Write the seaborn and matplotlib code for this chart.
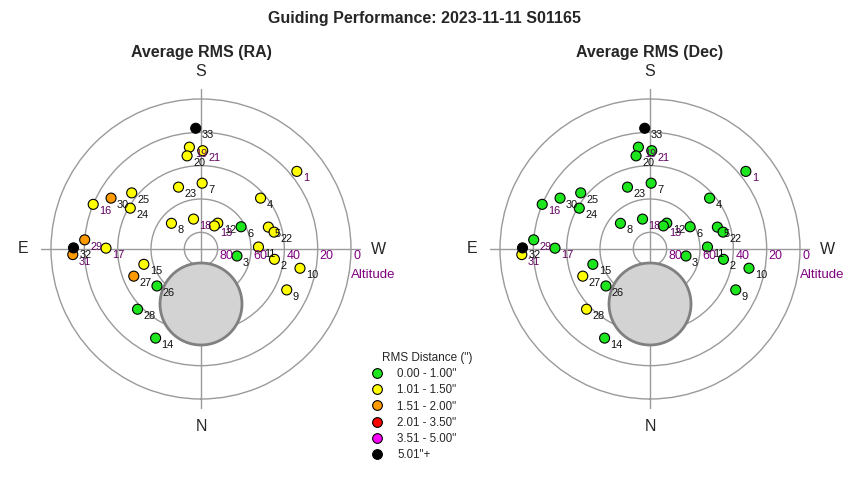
import numpy as np
import pandas as pd
import seaborn as sns
import matplotlib.pyplot as plt
from matplotlib.lines import Line2D
from matplotlib.patches import Circle

sns.set_style('white')
plt.rcParams['font.family'] = ['Liberation Sans', 'DejaVu Sans']

#%% data
point_id = list(range(1, 34))
azimuth = [231, 278, 281, 229.5, 252, 241, 181, 131, 295.5, 281, 268, 213, 210,
           27, 75, 112.5, 90.5, 166, 173.5, 171.5, 181, 257, 160, 120, 129,
           50, 68, 46.5, 94.5, 119.5, 87.5, 90.5, 177.5]
altitude = [16, 45.5, 68, 43, 47.5, 62.5, 50.5, 66.5, 33, 29.5, 55.5, 71.5, 74,
            30, 54.5, 20, 33, 71.5, 28.5, 33.5, 31, 45, 50.5, 41, 36.5,
            55.5, 46.5, 37.5, 20, 28, 13, 13.5, 17.5]
# RMS bin per point (0 = best ... 5 = worst)
ra_bin = [1, 1, 0, 1, 1, 0, 1, 1, 1, 1, 1, 1, 1, 0, 1, 1, 1, 1, 1, 1, 1, 1, 1,
          1, 1, 0, 2, 0, 2, 2, 2, 5, 5]
dec_bin = [0, 0, 0, 0, 0, 0, 0, 0, 0, 0, 0, 0, 0, 0, 0, 0, 0, 0, 0, 0, 0, 0, 0,
           0, 0, 0, 1, 1, 0, 0, 1, 5, 5]
purple_labels = [1, 13, 16, 17, 18, 19, 21, 29, 31]

bin_labels = ['0.00 - 1.00"', '1.01 - 1.50"', '1.51 - 2.00"',
              '2.01 - 3.50"', '3.51 - 5.00"', '5.01"+']
bin_colors = ['#1ee61e', '#ffff00', '#ff9a00', '#ff0000', '#ff00ff', '#000000']
palette = dict(zip(bin_labels, bin_colors))

ring_alt = [80, 60, 40, 20, 0]
cardinal_az = [0, 90, 180, 270]
cardinal_name = ['N', 'E', 'S', 'W']

#%% panel
def draw_panel(ax, bins):
    df = pd.DataFrame({
        'id': point_id,
        'theta': np.radians(azimuth),
        'r': 90 - np.array(altitude, dtype=float),
        'bin': [bin_labels[b] for b in bins]})
    ax.set_theta_zero_location('S')
    ax.set_theta_direction(-1)
    sns.scatterplot(data=df, x='theta', y='r', hue='bin', hue_order=bin_labels,
                    palette=palette, s=52, edgecolor='black', linewidth=0.8,
                    legend=False, ax=ax, zorder=3)
    ax.set_rlim(0, 96)
    ax.set_xlabel('')
    ax.set_ylabel('')
    ax.set_rticks([90 - a for a in ring_alt])
    ax.set_yticklabels([])
    ax.set_xticks(np.radians(cardinal_az))
    ax.set_xticklabels([])
    ax.grid(True, color='#9a9a9a', lw=1)
    ax.spines['polar'].set_visible(False)
    # grey blob below the pole
    blob = Circle((0, -33), 24.6,
                  transform=ax.transProjectionAffine + ax.transWedge + ax.transAxes,
                  facecolor='#d3d3d3', edgecolor='#808080', lw=2, zorder=1)
    ax.add_artist(blob)
    for a in ring_alt:
        ax.annotate(str(a), (np.radians(270), 90 - a), xytext=(1.5, -0.5),
                    textcoords='offset points', ha='left', va='top',
                    color='#800080', fontsize=9)
    ax.annotate('Altitude', (np.radians(270), 90), xytext=(0, -18.4),
                textcoords='offset points', ha='left', va='center',
                color='#800080', fontsize=9.5)
    for az, name in zip(cardinal_az, cardinal_name):
        ax.text(np.radians(az), 106.5, name, ha='center', va='center', fontsize=11.5)
    for row in df.itertuples():
        col = '#600060' if row.id in purple_labels else '#111111'
        ax.annotate(str(row.id), (row.theta, row.r), xytext=(4.3, -5),
                    textcoords='offset points', ha='left', va='center',
                    fontsize=7.9, color=col, zorder=4)

#%% figure
fig = plt.figure(figsize=(8.5, 4.8), dpi=100)
ax_ra = fig.add_axes([41 / 850, 71 / 480, 320 / 850, 320 / 480], projection='polar')
ax_dec = fig.add_axes([490 / 850, 71 / 480, 320 / 850, 320 / 480], projection='polar')
draw_panel(ax_ra, ra_bin)
draw_panel(ax_dec, dec_bin)

fig.text(0.5, 1 - 19 / 480, 'Guiding Performance: 2023-11-11 S01165',
         ha='center', va='center', fontsize=11.5, fontweight='bold')
fig.text(201 / 850, 1 - 53 / 480, 'Average RMS (RA)', ha='center', va='center',
         fontsize=11.5, fontweight='bold')
fig.text(650 / 850, 1 - 53 / 480, 'Average RMS (Dec)', ha='center', va='center',
         fontsize=11.5, fontweight='bold')

handles = [Line2D([], [], marker='o', ls='', markersize=7, markerfacecolor=c,
                  markeredgecolor='black', markeredgewidth=0.8) for c in bin_colors]
fig.text(381.7 / 850, 1 - 358 / 480, 'RMS Distance (")', ha='left', va='center',
         fontsize=8.5)
fig.legend(handles, bin_labels, loc='upper left',
           bbox_to_anchor=(371.4 / 850, 1 - 368 / 480), frameon=False,
           fontsize=8.3, handlelength=1.0, handletextpad=1.23,
           labelspacing=0.37, borderpad=0, borderaxespad=0)

fig.savefig('out.png', dpi=100, facecolor='white')
